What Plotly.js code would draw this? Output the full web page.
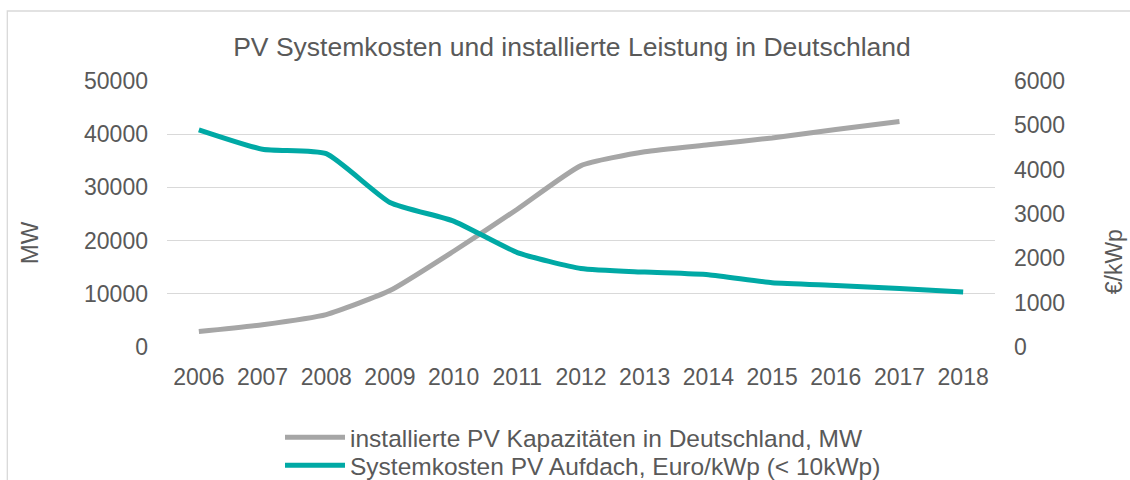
<!DOCTYPE html>
<html>
<head>
<meta charset="utf-8">
<script src="https://cdn.plot.ly/plotly-3.0.1.min.js"></script>
<style>
  html, body { margin: 0; padding: 0; background: #ffffff; }
  #chart { width: 1130px; height: 480px; }
</style>
</head>
<body>
<div id="chart"></div>
<script>
// ---- data ----
const years = ["2006","2007","2008","2009","2010","2011","2012","2013","2014","2015","2016","2017","2018"];
const capacityYears = ["2006","2007","2008","2009","2010","2011","2012","2013","2014","2015","2016","2017"];
const capacityMW = [2900, 4200, 6100, 10600, 18000, 25900, 34100, 36700, 38000, 39300, 40900, 42400];
const systemCost = [4900, 4460, 4360, 3260, 2840, 2130, 1770, 1690, 1630, 1450, 1390, 1320, 1240];
const capacityName = "installierte PV Kapazitäten in Deutschland, MW";
const costName = "Systemkosten PV Aufdach, Euro/kWp (< 10kWp)";
const chartTitle = "PV Systemkosten und installierte Leistung in Deutschland";
const leftTicks = [0, 10000, 20000, 30000, 40000, 50000];
const rightTicks = [0, 1000, 2000, 3000, 4000, 5000, 6000];

const FONT = "Liberation Sans, Arial, sans-serif";
const TXT = "#595959";
const GRID = "#D9D9D9";
const GRAY = "#A6A6A6";
const TEAL = "#00A9A5";

// plot area in pixels
const L = 167, R = 995, T = 80.7, B = 346.7, W = 1130, H = 480;
const pw = R - L, ph = B - T;
const px = x => (x - L) / pw;
const py = y => (B - y) / ph;

const traces = [
  {
    x: capacityYears, y: capacityMW, name: capacityName,
    type: "scatter", mode: "lines", yaxis: "y", legend: "legend",
    line: { color: GRAY, width: 5, shape: "spline", smoothing: 0.5 },
    hoverinfo: "skip"
  },
  {
    x: years, y: systemCost, name: costName,
    type: "scatter", mode: "lines", yaxis: "y2", legend: "legend2",
    line: { color: TEAL, width: 5, shape: "spline", smoothing: 0.5 },
    hoverinfo: "skip"
  }
];

const legendBase = {
  orientation: "v", xanchor: "left", yanchor: "middle",
  font: { family: FONT, size: 24.5, color: TXT },
  bgcolor: "rgba(0,0,0,0)", borderwidth: 0, itemwidth: 60
};

const layout = {
  width: W, height: H,
  paper_bgcolor: "#ffffff", plot_bgcolor: "#ffffff",
  margin: { l: L, r: W - R, t: T, b: H - B, pad: 0, autoexpand: false },
  font: { family: FONT, color: TXT, size: 22 },
  showlegend: true,
  title: {
    text: chartTitle,
    font: { family: FONT, size: 26.5, color: TXT },
    x: 572 / W, xanchor: "center", xref: "container",
    y: 1 - 47 / H, yanchor: "middle", yref: "container"
  },
  xaxis: {
    type: "category", categoryorder: "array", categoryarray: years,
    range: [-0.5, years.length - 0.5],
    showgrid: false, zeroline: false, showline: false, ticks: "",
    tickfont: { family: FONT, size: 23, color: TXT },
    ticklabelstandoff: 14, fixedrange: true, automargin: false
  },
  yaxis: {
    range: [0, 50000], tickvals: leftTicks, ticktext: leftTicks.map(String),
    showgrid: true, gridcolor: GRID, gridwidth: 1.3,
    zeroline: false, showline: false, ticks: "",
    tickfont: { family: FONT, size: 23, color: TXT },
    ticklabelstandoff: 18, fixedrange: true, automargin: false
  },
  yaxis2: {
    overlaying: "y", side: "right",
    range: [0, 6000], tickvals: rightTicks, ticktext: rightTicks.map(String),
    showgrid: false, zeroline: false, showline: false, ticks: "",
    tickfont: { family: FONT, size: 23, color: TXT },
    ticklabelstandoff: 18, fixedrange: true, automargin: false
  },
  legend: Object.assign({}, legendBase, { x: px(280), y: py(437) }),
  legend2: Object.assign({}, legendBase, { x: px(280), y: py(465) }),
  annotations: [
    {
      text: "MW", textangle: -90, showarrow: false,
      xref: "paper", yref: "paper", x: px(29), y: py(243),
      xanchor: "center", yanchor: "middle",
      font: { family: FONT, size: 24, color: TXT }
    },
    {
      text: "€/kWp", textangle: -90, showarrow: false,
      xref: "paper", yref: "paper", x: px(1114), y: py(262),
      xanchor: "center", yanchor: "middle",
      font: { family: FONT, size: 23, color: TXT }
    }
  ],
  shapes: [
    {
      type: "rect", xref: "paper", yref: "paper",
      x0: px(7.3), x1: px(1140), y0: py(490), y1: py(10.7),
      line: { color: GRID, width: 1.3 }, fillcolor: "rgba(0,0,0,0)",
      layer: "below"
    }
  ]
};

Plotly.newPlot("chart", traces, layout, { staticPlot: true, displayModeBar: false });
</script>
</body>
</html>
